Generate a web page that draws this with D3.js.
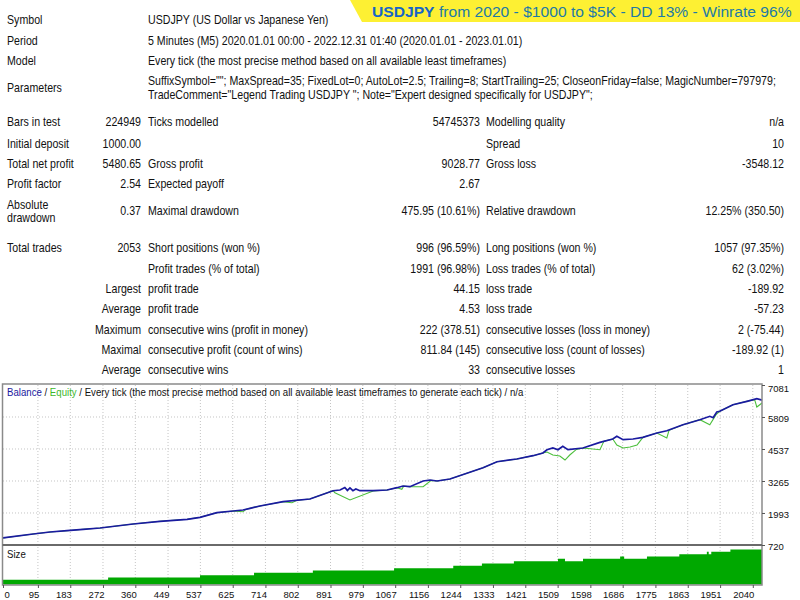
<!DOCTYPE html>
<html>
<head>
<meta charset="utf-8">
<script src="https://cdn.jsdelivr.net/npm/d3@7"></script>
<style>
    body { margin: 0; background: #fff; }
    svg { display: block; font-family: "Liberation Sans"; }
</style>
</head>
<body>
<svg width="800" height="600"></svg>
<script>
// I. Data

let titleBold = "USDJPY";
let titleRest = " from 2020 - $1000 to $5K - DD 13% - Winrate 96%";

let headerLabels = ["Symbol", "Period", "Model", "Parameters"];
let headerTexts = [
    ["USDJPY (US Dollar vs Japanese Yen)"],
    ["5 Minutes (M5) 2020.01.01 00:00 - 2022.12.31 01:40 (2020.01.01 - 2023.01.01)"],
    ["Every tick (the most precise method based on all available least timeframes)"],
    ['SuffixSymbol=""; MaxSpread=35; FixedLot=0; AutoLot=2.5; Trailing=8; StartTrailing=25; CloseonFriday=false; MagicNumber=797979;',
     'TradeComment="Legend Trading USDJPY "; Note="Expert designed specifically for USDJPY";']
];

// label, value, label, value, label, value
let statRows = [
    ["Bars in test", "224949", "Ticks modelled", "54745373", "Modelling quality", "n/a"],
    ["Initial deposit", "1000.00", "", "", "Spread", "10"],
    ["Total net profit", "5480.65", "Gross profit", "9028.77", "Gross loss", "-3548.12"],
    ["Profit factor", "2.54", "Expected payoff", "2.67", "", ""],
    ["Absolute|drawdown", "0.37", "Maximal drawdown", "475.95 (10.61%)", "Relative drawdown", "12.25% (350.50)"],
    ["Total trades", "2053", "Short positions (won %)", "996 (96.59%)", "Long positions (won %)", "1057 (97.35%)"],
    ["", "", "Profit trades (% of total)", "1991 (96.98%)", "Loss trades (% of total)", "62 (3.02%)"],
    ["", "Largest", "profit trade", "44.15", "loss trade", "-189.92"],
    ["", "Average", "profit trade", "4.53", "loss trade", "-57.23"],
    ["", "Maximum", "consecutive wins (profit in money)", "222 (378.51)", "consecutive losses (loss in money)", "2 (-75.44)"],
    ["", "Maximal", "consecutive profit (count of wins)", "811.84 (145)", "consecutive loss (count of losses)", "-189.92 (1)"],
    ["", "Average", "consecutive wins", "33", "consecutive losses", "1"]
];

let xTicks = [0, 95, 183, 272, 360, 449, 537, 625, 714, 802, 891, 979, 1067, 1156,
    1244, 1333, 1421, 1509, 1598, 1686, 1775, 1863, 1951, 2040];
let yTicks = [720, 1993, 3265, 4537, 5809, 7081];

let balanceTrades = [0, 82, 128, 174, 218, 264, 354, 427, 501, 536, 582, 626, 653, 672, 699,
    762, 835, 898, 917, 930, 937, 944, 952, 960, 971, 1007, 1045, 1072, 1088, 1107, 1143,
    1162, 1181, 1216, 1262, 1306, 1344, 1398, 1442, 1469, 1480, 1496, 1510, 1523, 1537,
    1578, 1624, 1659, 1670, 1687, 1714, 1741, 1779, 1806, 1850, 1896, 1923, 1932, 1942,
    1950, 1986, 2024, 2051, 2065];
let balanceValues = [1000, 1157, 1237, 1288, 1344, 1396, 1555, 1662, 1742, 1821, 2004, 2072, 2111, 2179, 2270,
    2441, 2549, 2878, 2906, 3006, 2890, 2990, 2880, 2950, 2878, 2878, 2906, 2998, 3065, 3038, 3264,
    3304, 3264, 3344, 3570, 3793, 4031, 4139, 4270, 4377, 4508, 4576, 4508, 4643, 4508,
    4576, 4802, 4934, 5041, 4906, 4934, 5001, 5172, 5263, 5502, 5701, 5836, 5780, 6010,
    6035, 6297, 6432, 6535, 6481];

let equityTrades = [0, 82, 128, 174, 218, 264, 354, 427, 501, 536, 582, 626, 653, 660, 672, 699,
    762, 786, 800, 835, 898, 903, 944, 1007, 1045, 1072, 1085, 1090, 1107, 1143, 1165, 1181,
    1216, 1262, 1306, 1344, 1398, 1442, 1469, 1480, 1496, 1515, 1529, 1542, 1560, 1578,
    1624, 1635, 1659, 1670, 1687, 1706, 1725, 1741, 1779, 1806, 1812, 1850, 1896, 1923,
    1940, 1950, 1986, 2024, 2045, 2051, 2065];
let equityValues = [1000, 1157, 1237, 1288, 1344, 1396, 1555, 1662, 1742, 1821, 2004, 2072, 2040, 2130, 2179, 2270,
    2441, 2400, 2500, 2549, 2878, 2799, 2509, 2867, 2906, 2998, 2934, 3060, 3038, 3038, 3290, 3264,
    3344, 3570, 3793, 4031, 4139, 4270, 4377, 4417, 4298, 4258, 4099, 4298, 4520, 4576,
    4508, 4850, 4934, 4695, 4576, 4616, 4695, 5001, 5172, 4973, 5280, 5502, 5701, 5502,
    5900, 6035, 6297, 6432, 6500, 6205, 6365];

let sizeTrades = [0, 286, 536, 683, 843, 1064, 1225, 1303, 1390, 1510, 1529, 1578, 1679, 1690,
    1752, 1840, 1915, 1920, 1927, 1979, 2065];
let sizeLots = [0.02, 0.03, 0.04, 0.05, 0.06, 0.07, 0.08, 0.09, 0.10, 0.11, 0.10, 0.11, 0.12, 0.11,
    0.12, 0.13, 0.14, 0.13, 0.14, 0.15, 0.15];

// II. Drawing

let svg = d3.select("svg");
let police = "Liberation Sans";
let sx = 0.885; // report font is narrower than Liberation Sans

function texte(g, x, y, str, anchor, size, scale) {
    return g.append("text")
        .attr("transform", `translate(${x},${y}) scale(${scale},1)`)
        .attr("dy", "0.35em")
        .attr("text-anchor", anchor)
        .attr("font-family", police)
        .style("font-size", size + "px")
        .attr("fill", "#111")
        .text(str);
}

// a) title banner
svg.append("polygon")
    .attr("points", "350,0 800,0 800,22 362,22")
    .attr("fill", "#fdf033");

let titre = svg.append("text")
    .attr("x", 0)
    .attr("y", 0)
    .attr("font-family", police)
    .style("font-size", "15px");
titre.append("tspan").attr("fill", "#1565c8").attr("font-weight", "bold").text(titleBold);
titre.append("tspan").attr("fill", "#1d7aa6").text(titleRest);
let largeur = titre.node().getComputedTextLength();
titre.attr("transform", `translate(372,17) scale(${420 / largeur},1)`);

// b) report table
let table = svg.append("g");
let headerY = [20, 40.7, 61, 88];
headerLabels.forEach(function (lab, i) {
    texte(table, 7, headerY[i], lab, "start", 12, sx);
    let lignes = headerTexts[i];
    lignes.forEach(function (l, j) {
        let y = lignes.length == 1 ? headerY[i] : headerY[i] - 7 + j * 14;
        texte(table, 148, y, l, "start", 12, sx);
    });
});

let rowY = [121.7, 143.3, 164, 184, 211, 247.3, 268.3, 289, 308.3, 329.3, 349.3, 370];
let colX = [7, 141, 148, 480, 486, 784];
let colAnchor = ["start", "end", "start", "end", "start", "end"];
statRows.forEach(function (row, i) {
    row.forEach(function (cell, c) {
        if (cell == "") return;
        let parts = cell.split("|");
        parts.forEach(function (p, k) {
            let y = parts.length == 1 ? rowY[i] : rowY[i] - 6.5 + k * 13;
            texte(table, colX[c], y, p, colAnchor[c], 12, sx);
        });
    });
});

// c) chart
let x = d3.scaleLinear().domain([0, 2065]).range([3, 762]);
let y = d3.scaleLinear().domain([720, 7081]).range([545, 385]);
let ySize = d3.scaleLinear().domain([0, 0.165]).range([584.5, 546]);

let chart = svg.append("g");

chart.append("rect")
    .attr("x", 2.5).attr("y", 384)
    .attr("width", 760).attr("height", 201)
    .attr("fill", "white");

// grid
chart.selectAll("line.vgrid")
    .data(xTicks.slice(1))
    .enter()
    .append("line")
    .attr("class", "vgrid")
    .attr("x1", d => x(d)).attr("x2", d => x(d))
    .attr("y1", 385).attr("y2", 584)
    .attr("stroke", "#c4c4c4")
    .attr("stroke-dasharray", "1,2");

chart.selectAll("line.hgrid")
    .data(yTicks.slice(1, -1))
    .enter()
    .append("line")
    .attr("class", "hgrid")
    .attr("x1", 3).attr("x2", 762)
    .attr("y1", d => y(d)).attr("y2", d => y(d))
    .attr("stroke", "#c4c4c4")
    .attr("stroke-dasharray", "1,2");

// size panel
let sizeData = sizeTrades.map((t, i) => ({t: t, v: sizeLots[i]}));
chart.append("path")
    .datum(sizeData)
    .attr("fill", "#00a800")
    .attr("d", d3.area()
        .curve(d3.curveStepAfter)
        .x(d => x(d.t))
        .y0(ySize(0))
        .y1(d => ySize(d.v)));

// equity then balance
let equityData = equityTrades.map((t, i) => ({t: t, v: equityValues[i]}));
let balanceData = balanceTrades.map((t, i) => ({t: t, v: balanceValues[i]}));
let ligne = d3.line().x(d => x(d.t)).y(d => y(d.v));

chart.append("path")
    .datum(equityData)
    .attr("fill", "none")
    .attr("stroke", "#4cbf3c")
    .attr("stroke-width", 1.1)
    .attr("d", ligne);

chart.append("path")
    .datum(balanceData)
    .attr("fill", "none")
    .attr("stroke", "#1a1aa0")
    .attr("stroke-width", 1.7)
    .attr("d", ligne);

// frames
chart.append("rect")
    .attr("x", 2.5).attr("y", 384)
    .attr("width", 759.5).attr("height", 201)
    .attr("fill", "none")
    .attr("stroke", "#8a8a8a")
    .attr("stroke-width", 1.5);

chart.append("line")
    .attr("x1", 2.5).attr("x2", 762)
    .attr("y1", 545).attr("y2", 545)
    .attr("stroke", "#6a6a6a")
    .attr("stroke-width", 2);

// axes
let axeY = chart.append("g")
    .attr("transform", "translate(762,0)")
    .call(d3.axisRight(y).tickValues(yTicks).tickFormat(d3.format("d")).tickSize(3).tickPadding(3));
axeY.select(".domain").remove();
axeY.selectAll("line").attr("stroke", "#555");
axeY.selectAll("text")
    .attr("dy", "0.5em")
    .attr("fill", "#111")
    .style("font-size", "9.5px")
    .style("font-family", police);
axeY.selectAll(".tick").filter(d => d == 7081).select("text").attr("dy", "0.65em");

let axeX = chart.append("g")
    .attr("transform", "translate(0,585)")
    .call(d3.axisBottom(x).tickValues(xTicks).tickFormat(d3.format("d")).tickSize(3).tickPadding(1));
axeX.select(".domain").remove();
axeX.selectAll("line").attr("stroke", "#555");
axeX.selectAll("text")
    .attr("text-anchor", d => d == 0 ? "start" : "end")
    .attr("x", 1)
    .attr("dy", "0.95em")
    .attr("fill", "#111")
    .style("font-size", "9.5px")
    .style("font-family", police);

// captions
let legende = chart.append("text")
    .attr("transform", "translate(7,392) scale(0.965,1)")
    .attr("dy", "0.35em")
    .attr("font-family", police)
    .style("font-size", "10px");
legende.append("tspan").attr("fill", "#1a1aa0").text("Balance");
legende.append("tspan").attr("fill", "#111").text(" / ");
legende.append("tspan").attr("fill", "#3cb82c").text("Equity");
legende.append("tspan").attr("fill", "#111")
    .text(" / Every tick (the most precise method based on all available least timeframes to generate each tick) / n/a");

texte(chart, 7, 554.5, "Size", "start", 10, 0.965);
</script>
</body>
</html>
